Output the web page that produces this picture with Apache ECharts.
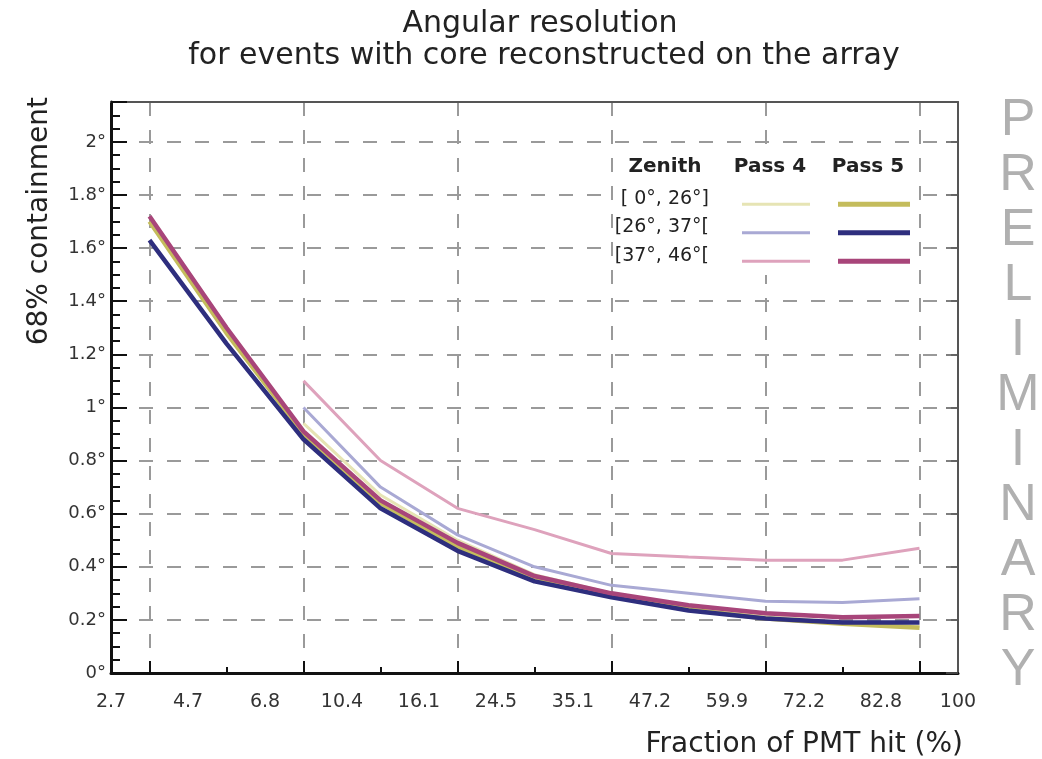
<!DOCTYPE html>
<html>
<head>
<meta charset="utf-8">
<title>Angular resolution</title>
<script src="https://cdn.jsdelivr.net/npm/echarts@6/dist/echarts.min.js"></script>
<style>
  html, body { margin: 0; padding: 0; background: #fff; }
  #chart { width: 1042px; height: 759px; }
</style>
</head>
<body>
<div id="chart"></div>
<script>
// Bin edges of the PMT-hit fraction (%), one label per edge
const binEdges = ['2.7', '4.7', '6.8', '10.4', '16.1', '24.5', '35.1', '47.2', '59.9', '72.2', '82.8', '100'];

// Zenith bands
const zenithBands = ['[ 0°, 26°]', '[26°, 37°[', '[37°, 46°['];

// 68% containment angle (degrees) per bin, Pass 4
const pass4Zen0 = [null, null, 0.94, 0.67, 0.50, 0.37, 0.30, 0.25, 0.215, 0.19, 0.175];
const pass4Zen1 = [null, null, 1.00, 0.70, 0.52, 0.40, 0.33, 0.30, 0.27, 0.265, 0.28];
const pass4Zen2 = [null, null, 1.10, 0.80, 0.62, 0.54, 0.45, 0.437, 0.425, 0.425, 0.47];

// 68% containment angle (degrees) per bin, Pass 5
const pass5Zen0 = [1.70, 1.28, 0.90, 0.64, 0.475, 0.355, 0.29, 0.24, 0.205, 0.185, 0.17];
const pass5Zen1 = [1.63, 1.24, 0.88, 0.62, 0.46, 0.345, 0.285, 0.235, 0.205, 0.19, 0.19];
const pass5Zen2 = [1.72, 1.30, 0.91, 0.65, 0.49, 0.365, 0.30, 0.255, 0.225, 0.21, 0.215];

const pass4Colors = ['#e6e4b4', '#a9a9d4', '#dea2bc'];
const pass5Colors = ['#c4bc5c', '#2e2e7e', '#a8457a'];

const FONT = 'DejaVu Sans';
const nBins = binEdges.length - 1;

// each point sits at the centre of its bin
function toPoints(values) {
  return values.map((v, i) => [i + 0.5, v]);
}

const edgePositions = binEdges.map((_, i) => i);
const majorTickPos = [];
const minorTickPos = [];
for (let i = 0; i < nBins; i++) {
  (i % 2 === 0 ? majorTickPos : minorTickPos).push(i + 0.5);
}

const pass4 = [pass4Zen0, pass4Zen1, pass4Zen2];
const pass5 = [pass5Zen0, pass5Zen1, pass5Zen2];

const series = [];
pass4.forEach((vals, k) => {
  series.push({
    name: zenithBands[k] + ' Pass 4',
    type: 'line',
    xAxisIndex: 0, yAxisIndex: 0,
    data: toPoints(vals),
    symbol: 'none',
    connectNulls: false,
    color: pass4Colors[k],
    lineStyle: { width: 3, color: pass4Colors[k] },
    z: 3
  });
});
pass5.forEach((vals, k) => {
  series.push({
    name: zenithBands[k] + ' Pass 5',
    type: 'line',
    xAxisIndex: 0, yAxisIndex: 0,
    data: toPoints(vals),
    symbol: 'none',
    color: pass5Colors[k],
    lineStyle: { width: 4.5, color: pass5Colors[k] },
    z: 4
  });
});

const gridDash = { color: '#9a9a9a', width: 2, type: [14, 14] };
const legendText = { fontFamily: FONT, fill: '#222', verticalAlign: 'middle' };

const option = {
  animation: false,
  backgroundColor: '#fff',
  grid: { left: 111, right: 84, top: 102, bottom: 86, containLabel: false },
  xAxis: [
    {
      type: 'value', position: 'bottom', min: 0, max: nBins,
      axisLine: { show: true, onZero: false, lineStyle: { color: '#111', width: 3 } },
      axisTick: { show: true, inside: true, length: 12, customValues: majorTickPos, lineStyle: { color: '#111', width: 2 } },
      axisLabel: {
        show: true, customValues: edgePositions, margin: 20,
        formatter: v => binEdges[Math.round(v)],
        fontFamily: FONT, fontSize: 19, color: '#333'
      },
      splitLine: { show: true, lineStyle: gridDash }
    },
    {
      type: 'value', position: 'bottom', min: 0, max: nBins,
      axisLine: { show: false },
      axisTick: { show: true, inside: true, length: 6, customValues: minorTickPos, lineStyle: { color: '#111', width: 2 } },
      axisLabel: { show: false },
      splitLine: { show: false }
    },
    {
      type: 'value', position: 'top', min: 0, max: nBins,
      axisLine: { show: true, onZero: false, lineStyle: { color: '#555', width: 2 } },
      axisTick: { show: false },
      axisLabel: { show: false },
      splitLine: { show: false }
    }
  ],
  yAxis: [
    {
      type: 'value', position: 'left', min: 0, max: 2.15, interval: 0.2,
      axisLine: { show: true, onZero: false, lineStyle: { color: '#111', width: 3 } },
      axisTick: { show: true, inside: true, length: 16, lineStyle: { color: '#111', width: 2 } },
      minorTick: { show: true, splitNumber: 4, length: 9, lineStyle: { color: '#111', width: 2 } },
      axisLabel: {
        showMaxLabel: false, margin: 5,
        formatter: v => String(Math.round(v * 10) / 10) + '°',
        fontFamily: FONT, fontSize: 18, color: '#333'
      },
      splitLine: { show: true, lineStyle: gridDash }
    },
    {
      type: 'value', position: 'right', min: 0, max: 2.15, interval: 0.2,
      axisLine: { show: true, onZero: false, lineStyle: { color: '#555', width: 2 } },
      axisTick: { show: true, inside: true, length: 12, lineStyle: { color: '#555', width: 1.5 } },
      axisLabel: { show: false },
      splitLine: { show: false }
    }
  ],
  legend: [
    {
      data: series.slice(0, 3).map(s => s.name),
      orient: 'vertical', left: 737, top: 185, z: 6,
      icon: 'rect', itemWidth: 68, itemHeight: 3, itemGap: 0,
      selectedMode: false,
      formatter: () => ' ',
      textStyle: { fontSize: 10, lineHeight: 28.5 }
    },
    {
      data: series.slice(3).map(s => s.name),
      orient: 'vertical', left: 833, top: 185, z: 6,
      icon: 'rect', itemWidth: 72, itemHeight: 5, itemGap: 0,
      selectedMode: false,
      formatter: () => ' ',
      textStyle: { fontSize: 10, lineHeight: 28.5 }
    }
  ],
  graphic: [
    { type: 'text', x: 540, y: 24, style: { text: 'Angular resolution', fontFamily: FONT, fontSize: 30, fill: '#222', align: 'center', verticalAlign: 'middle' } },
    { type: 'text', x: 544, y: 56, style: { text: 'for events with core reconstructed on the array', fontFamily: FONT, fontSize: 30, fill: '#222', align: 'center', verticalAlign: 'middle' } },
    { type: 'text', x: 963, y: 745, style: { text: 'Fraction of PMT hit (%)', fontFamily: FONT, fontSize: 28, fill: '#222', align: 'right', verticalAlign: 'middle' } },
    { type: 'text', x: 40, y: 97, rotation: Math.PI / 2, style: { text: '68% containment', fontFamily: FONT, fontSize: 28, fill: '#222', align: 'right', verticalAlign: 'middle' } },
    { type: 'text', x: 1018, y: 93, style: { text: 'PRELIMINARY'.split('').join('\n'), fontFamily: 'Liberation Sans', fontSize: 52, lineHeight: 55, fill: '#b0b0b0', align: 'center', verticalAlign: 'top' } },
    // legend panel
    { type: 'rect', z: 5, shape: { x: 614, y: 149, width: 303, height: 126 }, style: { fill: '#fff' } },
    { type: 'text', z: 7, x: 665, y: 167, style: Object.assign({ text: 'Zenith', fontSize: 20, fontWeight: 'bold', align: 'center' }, legendText) },
    { type: 'text', z: 7, x: 770, y: 167, style: Object.assign({ text: 'Pass 4', fontSize: 20, fontWeight: 'bold', align: 'center' }, legendText) },
    { type: 'text', z: 7, x: 868, y: 167, style: Object.assign({ text: 'Pass 5', fontSize: 20, fontWeight: 'bold', align: 'center' }, legendText) },
    { type: 'text', z: 7, x: 709, y: 199, style: Object.assign({ text: zenithBands[0], fontSize: 19, align: 'right' }, legendText) },
    { type: 'text', z: 7, x: 709, y: 227, style: Object.assign({ text: zenithBands[1], fontSize: 19, align: 'right' }, legendText) },
    { type: 'text', z: 7, x: 709, y: 256, style: Object.assign({ text: zenithBands[2], fontSize: 19, align: 'right' }, legendText) }
  ],
  series: series
};

const chart = echarts.init(document.getElementById('chart'), null, { renderer: 'canvas' });
chart.setOption(option);
</script>
</body>
</html>
